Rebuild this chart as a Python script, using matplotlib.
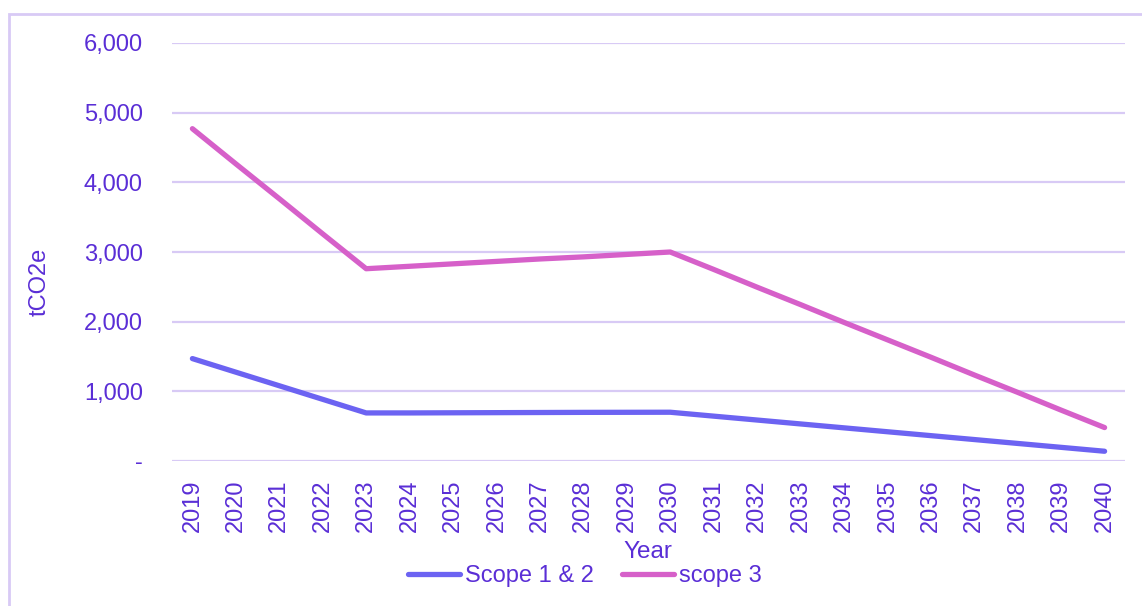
import matplotlib.pyplot as plt
from matplotlib.patches import Rectangle

years = [str(y) for y in range(2019, 2041)]
scope_12 = [1470, 1275, 1080, 885, 690, 690, 692, 694, 696, 698, 699, 700,
            644, 588, 532, 476, 420, 364, 308, 252, 196, 140]
scope_3 = [4770, 4265, 3765, 3260, 2760, 2795, 2830, 2865, 2900, 2930, 2965, 3000,
           2750, 2495, 2245, 1990, 1740, 1490, 1235, 985, 730, 480]
yticks = [0, 1000, 2000, 3000, 4000, 5000, 6000]
ytick_labels = ["-", "1,000", "2,000", "3,000", "4,000", "5,000", "6,000"]

TEXT = "#5A2ED6"
GRID = "#D8CAF5"
C12 = "#6C63F2"
C3 = "#D660C9"

plt.rcParams["font.family"] = ["Liberation Sans", "DejaVu Sans"]

fig = plt.figure(figsize=(11.42, 6.06), dpi=100)
ax = fig.add_axes([172 / 1142, 1 - 461 / 606, (1125 - 172) / 1142, (461 - 43) / 606])

# outer frame (only top and left visible in the picture)
fig.patches.append(Rectangle((9 / 1142, -0.1), 1.2, 1 - 14 / 606 + 0.1,
                             transform=fig.transFigure, fill=False,
                             edgecolor=GRID, linewidth=2))

x = list(range(len(years)))
ax.plot(x, scope_12, color=C12, linewidth=3.8, solid_capstyle="round", label="Scope 1 & 2")
ax.plot(x, scope_3, color=C3, linewidth=3.8, solid_capstyle="round", label="scope 3")

ax.set_xlim(-0.47, len(years) - 0.53)
ax.set_ylim(0, 6000)
ax.set_yticks(yticks)
ax.set_yticklabels(ytick_labels)
ax.set_xticks(x)
ax.set_xticklabels(years, rotation=90)
ax.tick_params(axis="both", length=0, labelsize=17, labelcolor=TEXT)
ax.tick_params(axis="y", pad=21)
ax.tick_params(axis="x", pad=13)
ax.grid(axis="y", color=GRID, linewidth=1.6)
ax.set_axisbelow(True)
for s in ax.spines.values():
    s.set_visible(False)

fig.text(40 / 1142, 1 - 282 / 606, "tCO2e", fontsize=17, color=TEXT, rotation=90,
         ha="center", va="center")
fig.text(648 / 1142, 1 - 552 / 606, "Year", fontsize=17.5, color=TEXT, ha="center", va="center")

leg = fig.legend(loc="center", bbox_to_anchor=(585 / 1142, 1 - 576 / 606), ncol=2, frameon=False,
                 fontsize=17, handlelength=2.2, handletextpad=0.2, columnspacing=1.2,
                 borderpad=0)
for t in leg.get_texts():
    t.set_color(TEXT)

fig.savefig("out.png", dpi=100)
